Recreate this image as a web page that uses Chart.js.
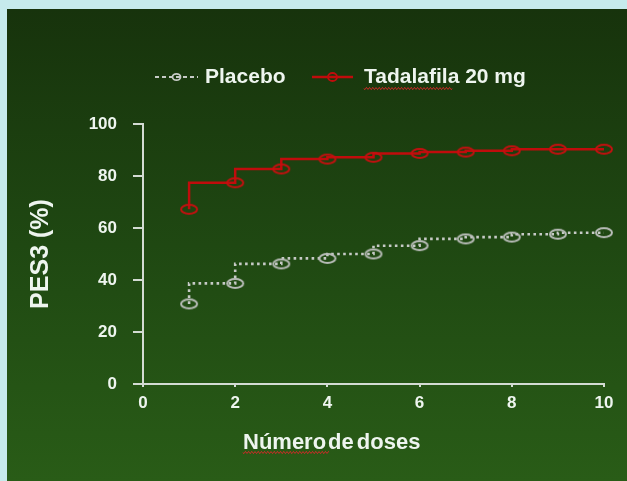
<!DOCTYPE html>
<html><head><meta charset="utf-8">
<script src="https://cdn.jsdelivr.net/npm/chart.js@4.4.0/dist/chart.umd.min.js"></script>
<style>
html,body{margin:0;padding:0;background:#c6eaec;width:627px;height:481px;overflow:hidden}
#wrap{position:absolute;left:7px;top:9px;width:620px;height:472px;background:linear-gradient(#17330c,#1f4812 50%,#295c17)}
canvas{display:block}
</style></head><body><div id="wrap"><canvas id="c" width="620" height="472"></canvas></div>
<script>
const doses = [1,2,3,4,5,6,7,8,9,10];
const placebo = [30.8,38.7,46.2,48.3,50,53.2,55.8,56.5,57.6,58.2];
const tadalafila = [67.2,77.4,82.7,86.5,87.2,88.7,89.2,89.7,90.3,90.3];
const xTicks = [0,2,4,6,8,10];
const yTicks = [0,20,40,60,80,100];
const seriesNames = ['Placebo','Tadalafila 20 mg'];
const xTitleWords = ['Número','de','doses'];
const yTitle = 'PES3 (%)';

const TXT = '#eef5ef';
const AX = '#d3dbd3';
const FONT = '"Liberation Sans", Arial, sans-serif';

function marker(color){
  const c = document.createElement('canvas');
  c.width = 20; c.height = 13;
  const g = c.getContext('2d');
  g.strokeStyle = color; g.lineWidth = 2;
  g.beginPath(); g.ellipse(10,6.5,8,4.5,0,0,Math.PI*2); g.stroke();
  return c;
}
const grayMarker = marker('#b9bdb9');
const redMarker = marker('#c41010');

function wavy(ctx,x0,x1,y){
  ctx.save();
  ctx.beginPath();
  for(let x=x0;x<=x1;x+=0.5){
    const yy = y + Math.sin((x-x0)/1.6*Math.PI)*1.1;
    if(x===x0) ctx.moveTo(x,yy); else ctx.lineTo(x,yy);
  }
  ctx.strokeStyle='#d42a2a'; ctx.lineWidth=1; ctx.setLineDash([]); ctx.stroke();
  ctx.restore();
}

const decorPlugin = {
  id:'decor',
  afterDraw(chart){
    const ctx = chart.ctx;
    ctx.save();
    const y = 68;
    const items = [{x0:148,x1:191,tx:198,ds:0,r:[4,3.2],dash:[4,3],w:2},{x0:305,x1:346,tx:357,ds:1,r:[4.5,4],dash:[],w:2.5}];
    items.forEach(it=>{
      const ds = chart.data.datasets[it.ds];
      ctx.strokeStyle = ds.borderColor;
      ctx.lineWidth = it.w;
      ctx.setLineDash(it.dash);
      ctx.beginPath(); ctx.moveTo(it.x0,y); ctx.lineTo(it.x1,y); ctx.stroke();
      ctx.setLineDash([]);
      ctx.lineWidth = 1.8;
      ctx.beginPath(); ctx.ellipse((it.x0+it.x1)/2,y,it.r[0],it.r[1],0,0,Math.PI*2); ctx.stroke();
      ctx.font = 'bold 21px ' + FONT;
      ctx.fillStyle = TXT;
      ctx.textBaseline = 'alphabetic';
      ctx.textAlign = 'left';
      ctx.fillText(ds.label, it.tx, 73.5);
    });
    wavy(ctx,357,445,79.5);
    // x axis title
    ctx.font = 'bold 22px ' + FONT;
    ctx.fillStyle = TXT;
    let x = 236;
    const gaps = [2,3,0];
    xTitleWords.forEach((w,i)=>{
      ctx.fillText(w, x, 439.5);
      x += ctx.measureText(w).width + gaps[i];
    });
    wavy(ctx,236,322,443.5);
    ctx.restore();
  }
};

new Chart(document.getElementById('c'), {
  type:'line',
  data:{
    datasets:[
      {label:seriesNames[0], data:doses.map((d,i)=>({x:d,y:placebo[i]})), stepped:'after',
       borderColor:'#c6cac6', borderWidth:2.6, borderDash:[2.6,3.4], pointStyle:grayMarker, pointRadius:8, clip:false, fill:false},
      {label:seriesNames[1], data:doses.map((d,i)=>({x:d,y:tadalafila[i]})), stepped:'after',
       borderColor:'#c00c0c', borderWidth:2.5, pointStyle:redMarker, pointRadius:8, clip:false, fill:false}
    ]
  },
  options:{
    responsive:false, animation:false, devicePixelRatio:1,
    layout:{padding:{top:115,right:23,left:0,bottom:0}},
    plugins:{legend:{display:false}, tooltip:{enabled:false}},
    scales:{
      x:{type:'linear', min:0, max:10,
        afterBuildTicks(s){ s.ticks = xTicks.map(v=>({value:v})); },
        afterFit(s){ s.height = 97; },
        ticks:{color:TXT, font:{family:FONT, size:17, weight:'bold'}, padding:6},
        grid:{drawOnChartArea:false, drawTicks:true, tickLength:3, color:AX, lineWidth:2},
        border:{display:true, color:AX, width:2}
      },
      y:{type:'linear', min:0, max:100,
        afterBuildTicks(s){ s.ticks = yTicks.map(v=>({value:v})); },
        afterFit(s){ s.width = 136; },
        ticks:{color:TXT, font:{family:FONT, size:17, weight:'bold'}, padding:16},
        grid:{drawOnChartArea:false, drawTicks:true, tickLength:10, color:AX, lineWidth:2},
        border:{display:true, color:AX, width:2},
        title:{display:true, text:yTitle, color:TXT, font:{family:FONT, size:25, weight:'bold'}, padding:{top:19,bottom:0}}
      }
    }
  },
  plugins:[decorPlugin]
});
</script>
</body></html>
